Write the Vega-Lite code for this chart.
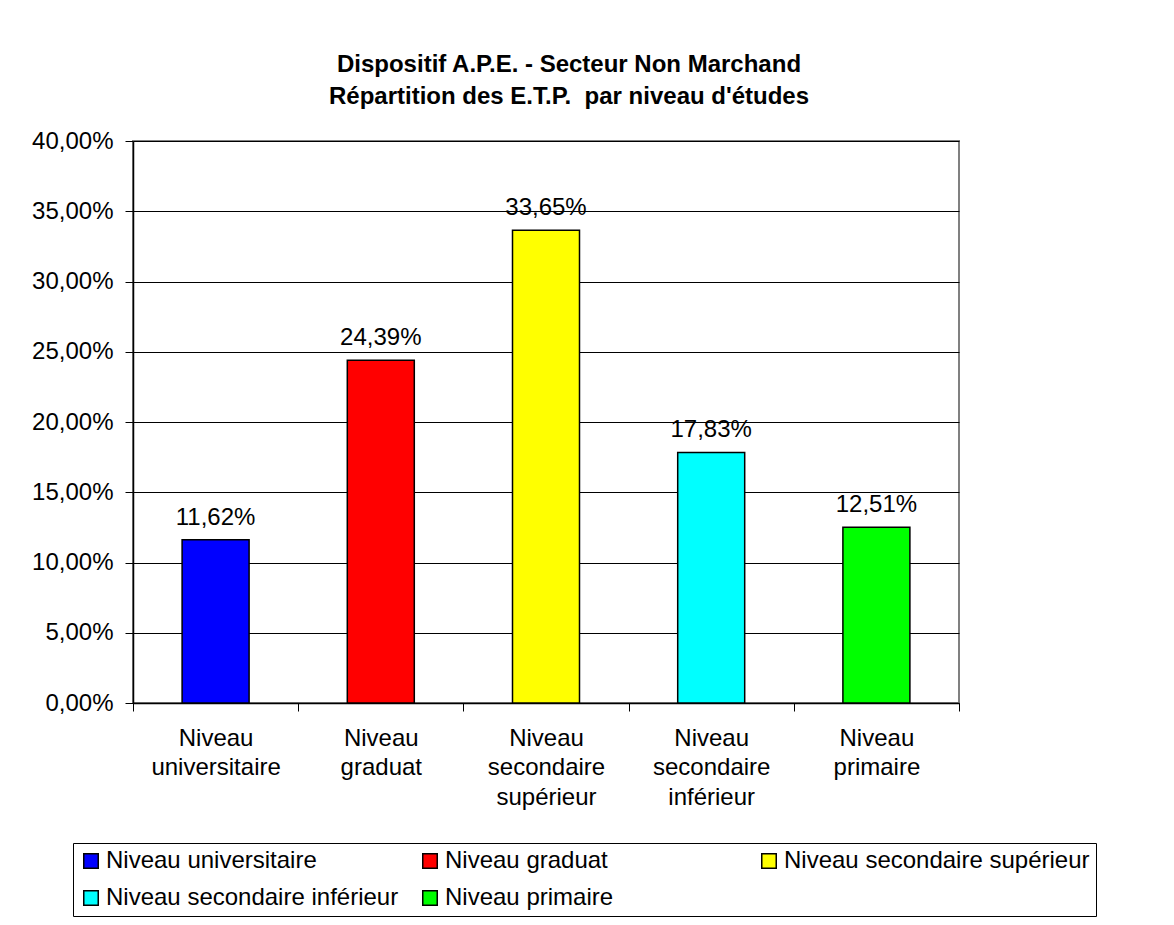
{
  "$schema": "https://vega.github.io/schema/vega-lite/v6.json",
  "width": 826,
  "height": 562,
  "autosize": {"type": "none"},
  "padding": {"left": 133, "top": 141, "right": 215, "bottom": 222},
  "background": "white",
  "title": {
    "text": ["Dispositif A.P.E. - Secteur Non Marchand", "Répartition des E.T.P.\u00a0 par niveau d'études"],
    "fontSize": 24,
    "fontWeight": "bold",
    "lineHeight": 32,
    "anchor": "middle",
    "dx": 23,
    "offset": 20,
    "color": "black"
  },
  "data": {
    "values": [
      {"niveau": "Niveau universitaire", "pct": 0.1162},
      {"niveau": "Niveau graduat", "pct": 0.2439},
      {"niveau": "Niveau secondaire supérieur", "pct": 0.3365},
      {"niveau": "Niveau secondaire inférieur", "pct": 0.1783},
      {"niveau": "Niveau primaire", "pct": 0.1251}
    ]
  },
  "encoding": {
    "x": {
      "field": "niveau",
      "type": "nominal",
      "sort": null,
      "scale": {"paddingInner": 0, "paddingOuter": 0},
      "axis": {
        "title": null,
        "labelAngle": 0,
        "labelExpr": "isValid(datum.value) ? split(datum.value, ' ') : ''",
        "labelFontSize": 24,
        "labelLineHeight": 29.5,
        "labelPadding": 15,
        "labelColor": "black",
        "tickBand": "extent",
        "tickSize": 8,
        "tickColor": "black",
        "domainColor": "black",
        "domainWidth": 1.5,
        "labelLimit": 300
      }
    },
    "y": {
      "field": "pct",
      "type": "quantitative",
      "scale": {"domain": [0, 0.4], "nice": false},
      "axis": {
        "title": null,
        "format": ".2%",
        "values": [0, 0.05, 0.1, 0.15, 0.2, 0.25, 0.3, 0.35, 0.4],
        "labelFontSize": 24,
        "labelPadding": 12,
        "labelColor": "black",
        "tickSize": 8,
        "tickColor": "black",
        "domainColor": "black",
        "domainWidth": 1.5,
        "grid": true,
        "gridColor": "black",
        "gridWidth": 1
      }
    }
  },
  "layer": [
    {
      "mark": {"type": "bar", "size": 67, "stroke": "black", "strokeWidth": 1.5},
      "encoding": {
        "color": {
          "field": "niveau",
          "type": "nominal",
          "sort": null,
          "scale": {
            "domain": ["Niveau universitaire", "Niveau graduat", "Niveau secondaire supérieur", "Niveau secondaire inférieur", "Niveau primaire"],
            "range": ["#0000FF", "#FF0000", "#FFFF00", "#00FFFF", "#00FF00"]
          },
          "legend": {
            "title": null,
            "orient": "none",
            "legendX": -60,
            "legendY": 702,
            "direction": "horizontal",
            "columns": 3,
            "gridAlign": "all",
            "columnPadding": 6,
            "rowPadding": 13,
            "padding": 6,
            "strokeColor": "black",
            "fillColor": "white",
            "symbolType": "square",
            "symbolSize": 210,
            "symbolStrokeColor": "black",
            "symbolStrokeWidth": 1.5,
            "symbolOpacity": 1,
            "labelFontSize": 24,
            "labelColor": "black",
            "labelOffset": 3,
            "labelLimit": 400
          }
        }
      }
    },
    {
      "mark": {"type": "text", "baseline": "middle", "dy": -22, "fontSize": 24, "color": "black"},
      "encoding": {
        "text": {"field": "pct", "type": "quantitative", "format": ".2%"}
      }
    }
  ],
  "config": {
    "font": "Liberation Sans",
    "locale": {
      "number": {"decimal": ",", "thousands": " ", "grouping": [3], "currency": ["", " €"]}
    },
    "view": {"stroke": "#808080", "strokeWidth": 2}
  }
}
